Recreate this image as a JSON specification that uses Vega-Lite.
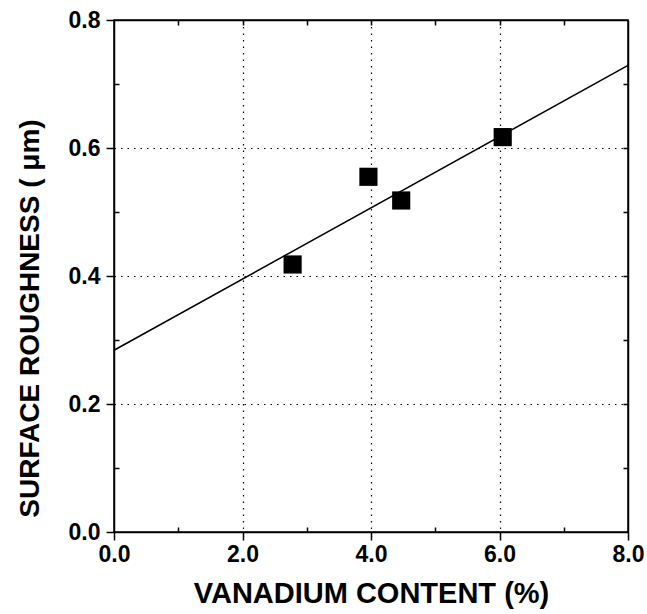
{
  "$schema": "https://vega.github.io/schema/vega-lite/v6.json",
  "width": 514,
  "height": 512,
  "autosize": "none",
  "padding": {"left": 114, "top": 20, "right": 19, "bottom": 82},
  "background": "white",
  "config": {
    "view": {"stroke": "black", "strokeWidth": 1.5},
    "font": "Liberation Sans",
    "axis": {
      "domainColor": "black",
      "domainWidth": 1.5,
      "tickColor": "black",
      "tickWidth": 1.5,
      "labelColor": "black",
      "titleColor": "black",
      "labelFont": "Liberation Sans",
      "titleFont": "Liberation Sans",
      "labelFontSize": 23,
      "labelFontWeight": "bold",
      "titleFontSize": 29,
      "titleFontWeight": "bold",
      "labelOverlap": false,
      "labelFlush": false,
      "gridColor": "black",
      "gridDash": [1.5, 5],
      "gridWidth": 1.2
    }
  },
  "resolve": {"axis": {"x": "independent", "y": "independent"}},
  "layer": [
    {
      "data": {"values": [
        {"vanadium": 2.78, "roughness": 0.418},
        {"vanadium": 3.96, "roughness": 0.555},
        {"vanadium": 4.47, "roughness": 0.518},
        {"vanadium": 6.05, "roughness": 0.617}
      ]},
      "mark": {"type": "square", "filled": true, "color": "black", "opacity": 1, "size": 330},
      "encoding": {
        "x": {
          "field": "vanadium", "type": "quantitative",
          "scale": {"domain": [0, 8], "nice": false, "zero": false},
          "axis": {
            "orient": "bottom",
            "title": "VANADIUM CONTENT (%)",
            "titlePadding": 13,
            "values": [0, 1, 2, 3, 4, 5, 6, 7, 8],
            "labelExpr": "datum.value % 2 == 0 ? format(datum.value, '.1f') : ''",
            "tickSize": {"condition": {"test": "datum.value % 2 == 0", "value": 8}, "value": -5},
            "labelPadding": 3,
            "grid": true,
            "gridOpacity": {"condition": {"test": "datum.value % 2 == 0 && datum.value > 0 && datum.value < 8", "value": 1}, "value": 0}
          }
        },
        "y": {
          "field": "roughness", "type": "quantitative",
          "scale": {"domain": [0, 0.8], "nice": false, "zero": false},
          "axis": {
            "orient": "left",
            "title": "SURFACE ROUGHNESS ( μm)",
            "titleFontSize": 28,
            "titlePadding": 24,
            "titleY": 298,
            "values": [0, 0.1, 0.2, 0.3, 0.4, 0.5, 0.6, 0.7, 0.8],
            "labelExpr": "round(datum.value * 10) % 2 == 0 ? format(datum.value, '.1f') : ''",
            "tickSize": {"condition": {"test": "round(datum.value * 10) % 2 == 0", "value": 8}, "value": -5},
            "labelPadding": 6,
            "grid": true,
            "gridOpacity": {"condition": {"test": "round(datum.value * 10) % 2 == 0 && datum.value > 0.01 && datum.value < 0.79", "value": 1}, "value": 0}
          }
        }
      }
    },
    {
      "data": {"values": [
        {"vanadium": 0, "roughness": 0.284},
        {"vanadium": 8, "roughness": 0.729}
      ]},
      "mark": {"type": "line", "color": "black", "strokeWidth": 1.5},
      "encoding": {
        "x": {
          "field": "vanadium", "type": "quantitative",
          "axis": {
            "orient": "top", "title": null, "labels": false, "grid": false,
            "values": [1, 2, 3, 4, 5, 6, 7],
            "tickSize": -5
          }
        },
        "y": {
          "field": "roughness", "type": "quantitative",
          "axis": {
            "orient": "right", "title": null, "labels": false, "grid": false,
            "values": [0.1, 0.2, 0.3, 0.4, 0.5, 0.6, 0.7],
            "tickSize": -5
          }
        }
      }
    }
  ]
}
